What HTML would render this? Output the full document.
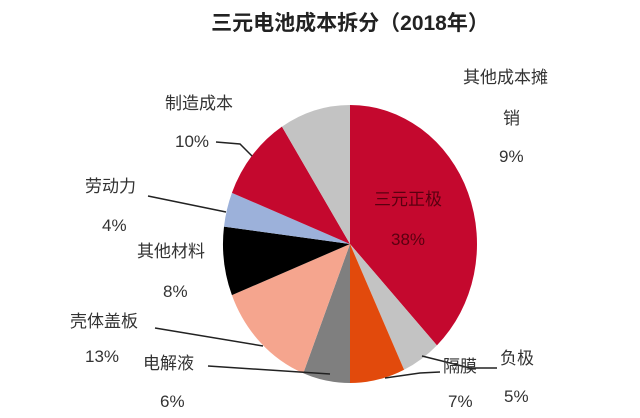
<!DOCTYPE html>
<html><head><meta charset="utf-8"><style>
body{margin:0;background:#fff;}
svg{display:block;font-family:"Liberation Sans","Noto Sans CJK SC",sans-serif;}
</style></head><body>
<svg id="chart" width="640" height="418" viewBox="0 0 640 418">
<text x="350" y="30" text-anchor="middle" font-size="21" font-weight="bold" fill="#222">三元电池成本拆分（2018年）</text>
<g id="slices"></g>
<g id="labels" font-size="17" fill="#333"></g>
</svg>
<script>
const categories=["三元正极","负极","隔膜","电解液","壳体盖板","其他材料","劳动力","制造成本","其他成本摊销"];
const values=[38,5,7,6,13,8,4,10,9];
const colors=["#c4082e","#c3c3c3","#e24a0c","#7f7f7f","#f5a58e","#000000","#9cb1da","#c4082e","#c3c3c3"];
const cx=350,cy=244,rx=127,ry=139;
const total=values.reduce((a,b)=>a+b,0);
const NS="http://www.w3.org/2000/svg";
const g=document.getElementById('slices');
function pt(a){return [cx+rx*Math.sin(a),cy-ry*Math.cos(a)];}
let acc=0;
values.forEach((v,i)=>{
  const a0=acc/total*2*Math.PI; acc+=v; const a1=acc/total*2*Math.PI;
  const p0=pt(a0),p1=pt(a1);
  const p=document.createElementNS(NS,'path');
  p.setAttribute('d',`M${cx},${cy}L${p0[0]},${p0[1]}A${rx},${ry} 0 ${a1-a0>Math.PI?1:0} 1 ${p1[0]},${p1[1]}Z`);
  p.setAttribute('fill',colors[i]);
  
  
  g.appendChild(p);
});
const L=document.getElementById('labels');
const items=[
 {n:"label-cathode",lines:[[408,205,"三元正极"],[408,245,values[0]+"%"]],fill:"#5a0010",anchor:"middle"},
 {n:"label-anode",lines:[[500,364,"负极"],[504,402,values[1]+"%"]],line:"M422,356 L470,368 L497,368"},
 {n:"label-separator",lines:[[443,372,"隔膜"],[448,407,values[2]+"%"]],line:"M385,378 L420,373 L440,372"},
 {n:"label-electrolyte",lines:[[143,369,"电解液"],[160,407,values[3]+"%"]],line:"M208,366 L330,374"},
 {n:"label-case",lines:[[70,327,"壳体盖板"],[85,362,values[4]+"%"]],line:"M155,328 L263,346"},
 {n:"label-other-material",lines:[[137,257,"其他材料"],[163,297,values[5]+"%"]]},
 {n:"label-labor",lines:[[85,192,"劳动力"],[102,231,values[6]+"%"]],line:"M148,196 L226,212"},
 {n:"label-manufacturing",lines:[[165,109,"制造成本"],[175,147,values[7]+"%"]],line:"M216,142 L240,144 L252,156"},
 {n:"label-amortization",lines:[[463,83,"其他成本摊"],[503,124,"销"],[499,162,values[8]+"%"]]}
];
items.forEach(it=>{
  if(it.line){const l=document.createElementNS(NS,'path');l.setAttribute('d',it.line);l.setAttribute('stroke','#222');l.setAttribute('stroke-width','1.5');l.setAttribute('fill','none');
  
  
  L.appendChild(l);}
  it.lines.forEach(([x,y,s])=>{const t=document.createElementNS(NS,'text');t.setAttribute('x',x);t.setAttribute('y',y);t.textContent=s;
  if(it.fill)t.setAttribute('fill',it.fill);if(it.anchor)t.setAttribute('text-anchor',it.anchor);
  
  
  L.appendChild(t);});
});
</script>
</body></html>
